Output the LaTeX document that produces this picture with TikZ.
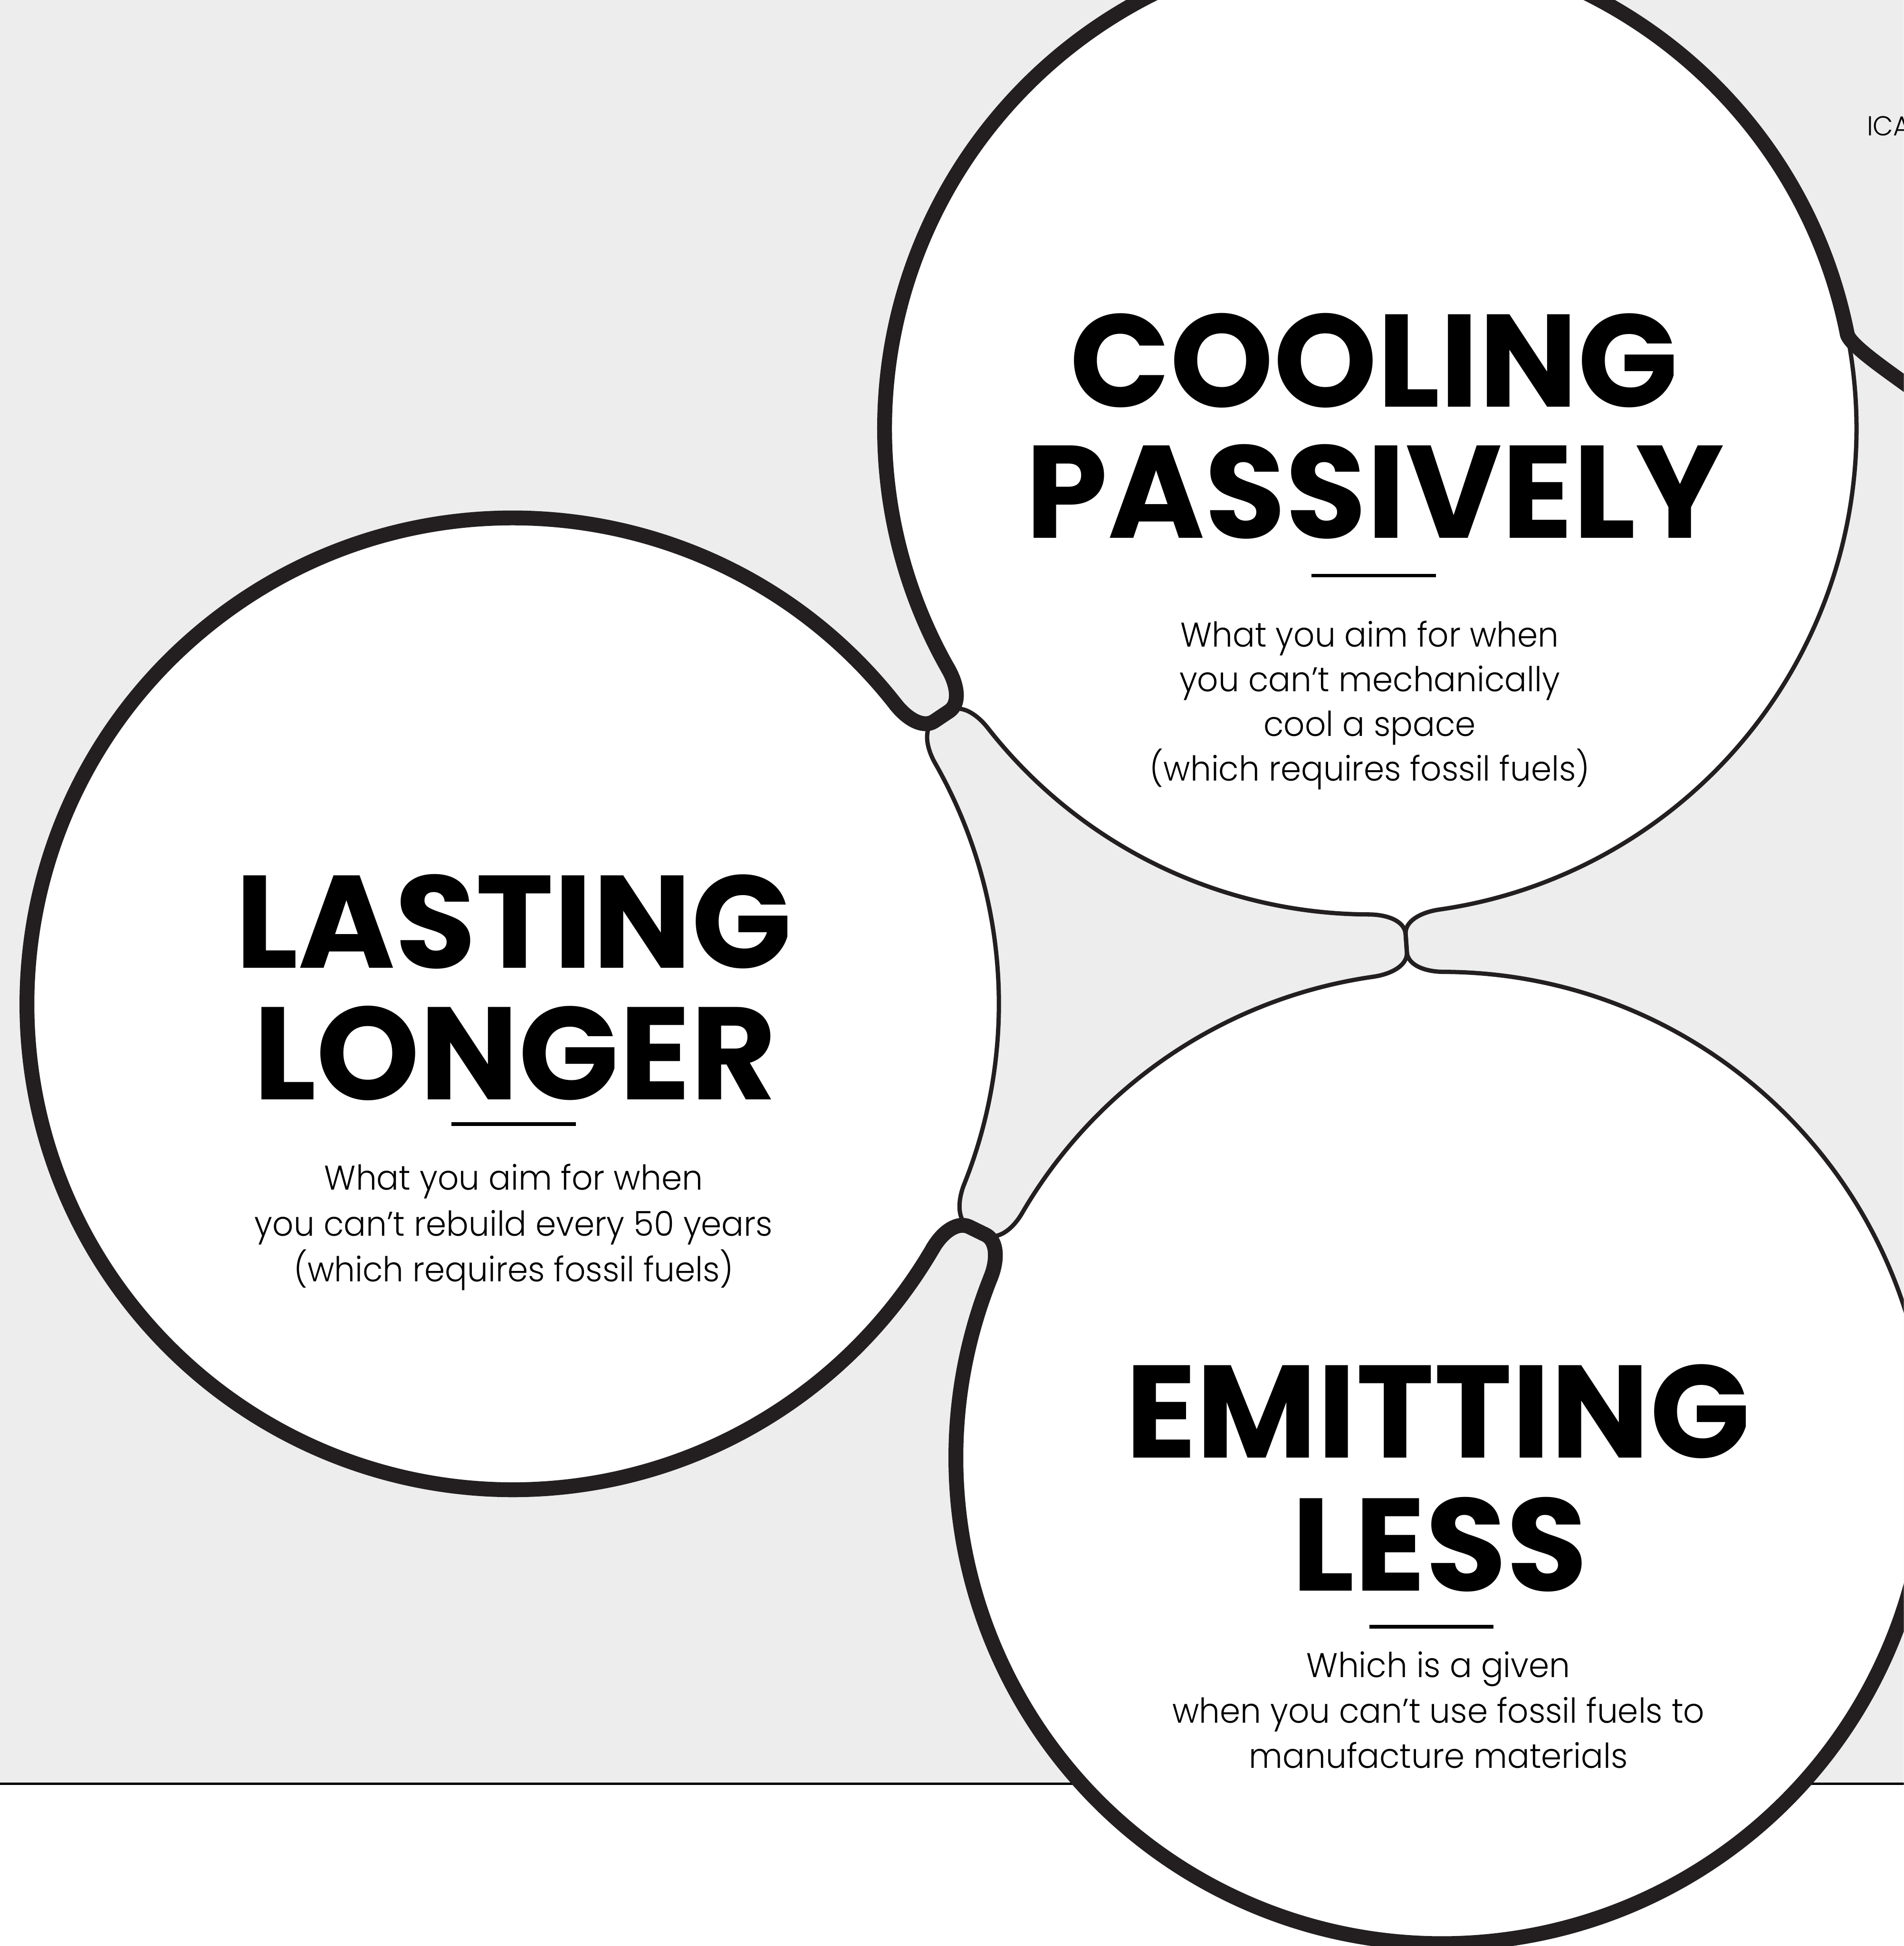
\documentclass[tikz,border=0pt]{standalone}
\usepackage{fontspec}
\usepackage{xcolor}
\usepackage{tikz}
\usetikzlibrary{calc}
\newfontfamily\headfont{Poppins Bold}
\newfontfamily\bodyfont{Poppins Light}[FakeStretch=0.96]
\definecolor{bggrey}{RGB}{237, 237, 237}
\definecolor{inkblack}{RGB}{35, 31, 32}
\newcommand{\nrad}{12.45}   % radius of every circle
\newcommand{\nalpha}{4.2}   % where a neck leaves its circle
\newcommand{\nkone}{0.50}
\newcommand{\nktwo}{0.33}
\newcommand{\nflat}{0.23}
% one side of the pinch between circles #1 and #2 (axis angle #3, side #4)
\newcommand{\neckpath}[4]{%
  ($(#1)+({#3+(#4)*\nalpha}:\nrad)$)
  .. controls +({#3+(#4)*\nalpha-(#4)*90}:\nkone) and +({#3+180}:\nktwo) ..
  ($(#1)!0.5!(#2)+({#3+180}:\nflat)$) -- ($(#1)!0.5!(#2)+({#3}:\nflat)$)
  .. controls +({#3}:\nktwo) and +({#3+180-(#4)*\nalpha+(#4)*90}:\nkone) ..
  ($(#2)+({#3+180-(#4)*\nalpha}:\nrad)$)}

\begin{document}
\begin{tikzpicture}[
  outerline/.style={draw=inkblack,line width=0.38cm,line cap=round},
  innerline/.style={draw=inkblack,line width=0.11cm,line cap=round},
  headline/.style={font=\headfont\fontsize{96}{96}\selectfont,anchor=base,inner sep=0pt},
  bodytext/.style={font=\bodyfont\fontsize{25}{31}\selectfont,anchor=base,inner sep=0pt},
  sepbar/.style={fill=black,minimum width=3.18cm,minimum height=0.09cm,inner sep=0pt}
]
  \useasboundingbox (0,0) rectangle (48.77,-49.86);
  \clip (0,0) rectangle (48.77,-49.86);

  % Background and base line
  \fill[bggrey] (0,0) rectangle (48.77,-45.70);
  \draw[line width=0.06cm] (0,-45.70) -- (48.77,-45.70);

  % Circle centres
  \coordinate (L) at (13.14,-25.72);
  \coordinate (C) at (35.11,-10.98);
  \coordinate (E) at (36.94,-37.35);
  \foreach \c in {L,C,E}
    \fill[white] (\c) circle[radius=\nrad];
  \foreach \a/\b/\t in {L/C/33.86, L/E/-26.00, C/E/-86.03}
    \foreach \s in {1,-1}
      \fill[white] \neckpath{\a}{\b}{\t}{\s} -- (\b) -- (\a) -- cycle;

  % Outlines: thick outside, thin round the gaps
  \draw[outerline] ($(L)+({33.86+\nalpha}:\nrad)$)
    arc[start angle={33.86+\nalpha},end angle={334.00-\nalpha},radius=\nrad];
  \draw[innerline] ($(L)+({-26.00+\nalpha}:\nrad)$)
    arc[start angle={-26.00+\nalpha},end angle={33.86-\nalpha},radius=\nrad];
  \draw[outerline] ($(C)+(11.2:\nrad)$)
    arc[start angle=11.2,end angle={213.86-\nalpha},radius=\nrad];
  \draw[innerline] ($(C)+({213.86+\nalpha}:\nrad)$)
    arc[start angle={213.86+\nalpha},end angle={273.97-\nalpha},radius=\nrad];
  \draw[innerline] ($(C)+({273.97+\nalpha}:\nrad)$)
    arc[start angle={273.97+\nalpha},end angle=371.2,radius=\nrad];
  \draw[innerline] ($(E)+(0:\nrad)$)
    arc[start angle=0,end angle={93.97-\nalpha},radius=\nrad];
  \draw[innerline] ($(E)+({93.97+\nalpha}:\nrad)$)
    arc[start angle={93.97+\nalpha},end angle={154.00-\nalpha},radius=\nrad];
  \draw[outerline] ($(E)+({154.00+\nalpha}:\nrad)$)
    arc[start angle={154.00+\nalpha},end angle=360,radius=\nrad];

  % Necks
  \draw[outerline] \neckpath{L}{C}{33.86}{1};
  \draw[innerline] \neckpath{L}{C}{33.86}{-1};
  \draw[innerline] \neckpath{L}{E}{-26.00}{1};
  \draw[outerline] \neckpath{L}{E}{-26.00}{-1};
  \draw[innerline] \neckpath{C}{E}{-86.03}{1};
  \draw[innerline] \neckpath{C}{E}{-86.03}{-1};

  % Branch leaving at the top right
  \coordinate (tr-end) at (49.3,-10.2);
  \draw[outerline] ($(C)+(11.2:\nrad)$) .. controls +(-76:0.35) and +(142:0.8) .. (tr-end);
  \node[bodytext,font=\bodyfont\fontsize{20}{24}\selectfont,anchor=base west] (tr-label)
    at (47.82,-3.47) {ICA};

  % Cooling passively
  \node[headline] (cool-1) at (35.20,-10.43) {COOLING};
  \node[headline] (cool-2) at (35.22,-13.79) {PASSIVELY};
  \node[sepbar] (cool-bar) at (35.19,-14.75) {};
  \foreach \txt [count=\i] in {What you aim for when,you can’t mechanically,
      cool a space,(which requires fossil fuels)}
    \node[bodytext] (cool-t\i) at (35.09,{-16.57-1.145*(\i-1)}) {\txt};

  % Lasting longer
  \node[headline] (last-1) at (13.16,-24.80) {LASTING};
  \node[headline] (last-2) at (13.19,-28.17) {LONGER};
  \node[sepbar] (last-bar) at (13.16,-28.80) {};
  \foreach \txt [count=\i] in {What you aim for when,you can’t rebuild every 50 years,
      (which requires fossil fuels)}
    \node[bodytext] (last-t\i) at (13.16,{-30.49-1.175*(\i-1)}) {\txt};

  % Emitting less
  \node[headline] (emit-1) at (36.83,-37.35) {EMITTING};
  \node[headline] (emit-2) at (36.88,-40.76) {LESS};
  \node[sepbar] (emit-bar) at (36.67,-41.68) {};
  \foreach \txt [count=\i] in {Which is a given,when you can’t use fossil fuels to,
      manufacture materials}
    \node[bodytext] (emit-t\i) at (36.85,{-42.98-1.16*(\i-1)}) {\txt};
\end{tikzpicture}
\end{document}
